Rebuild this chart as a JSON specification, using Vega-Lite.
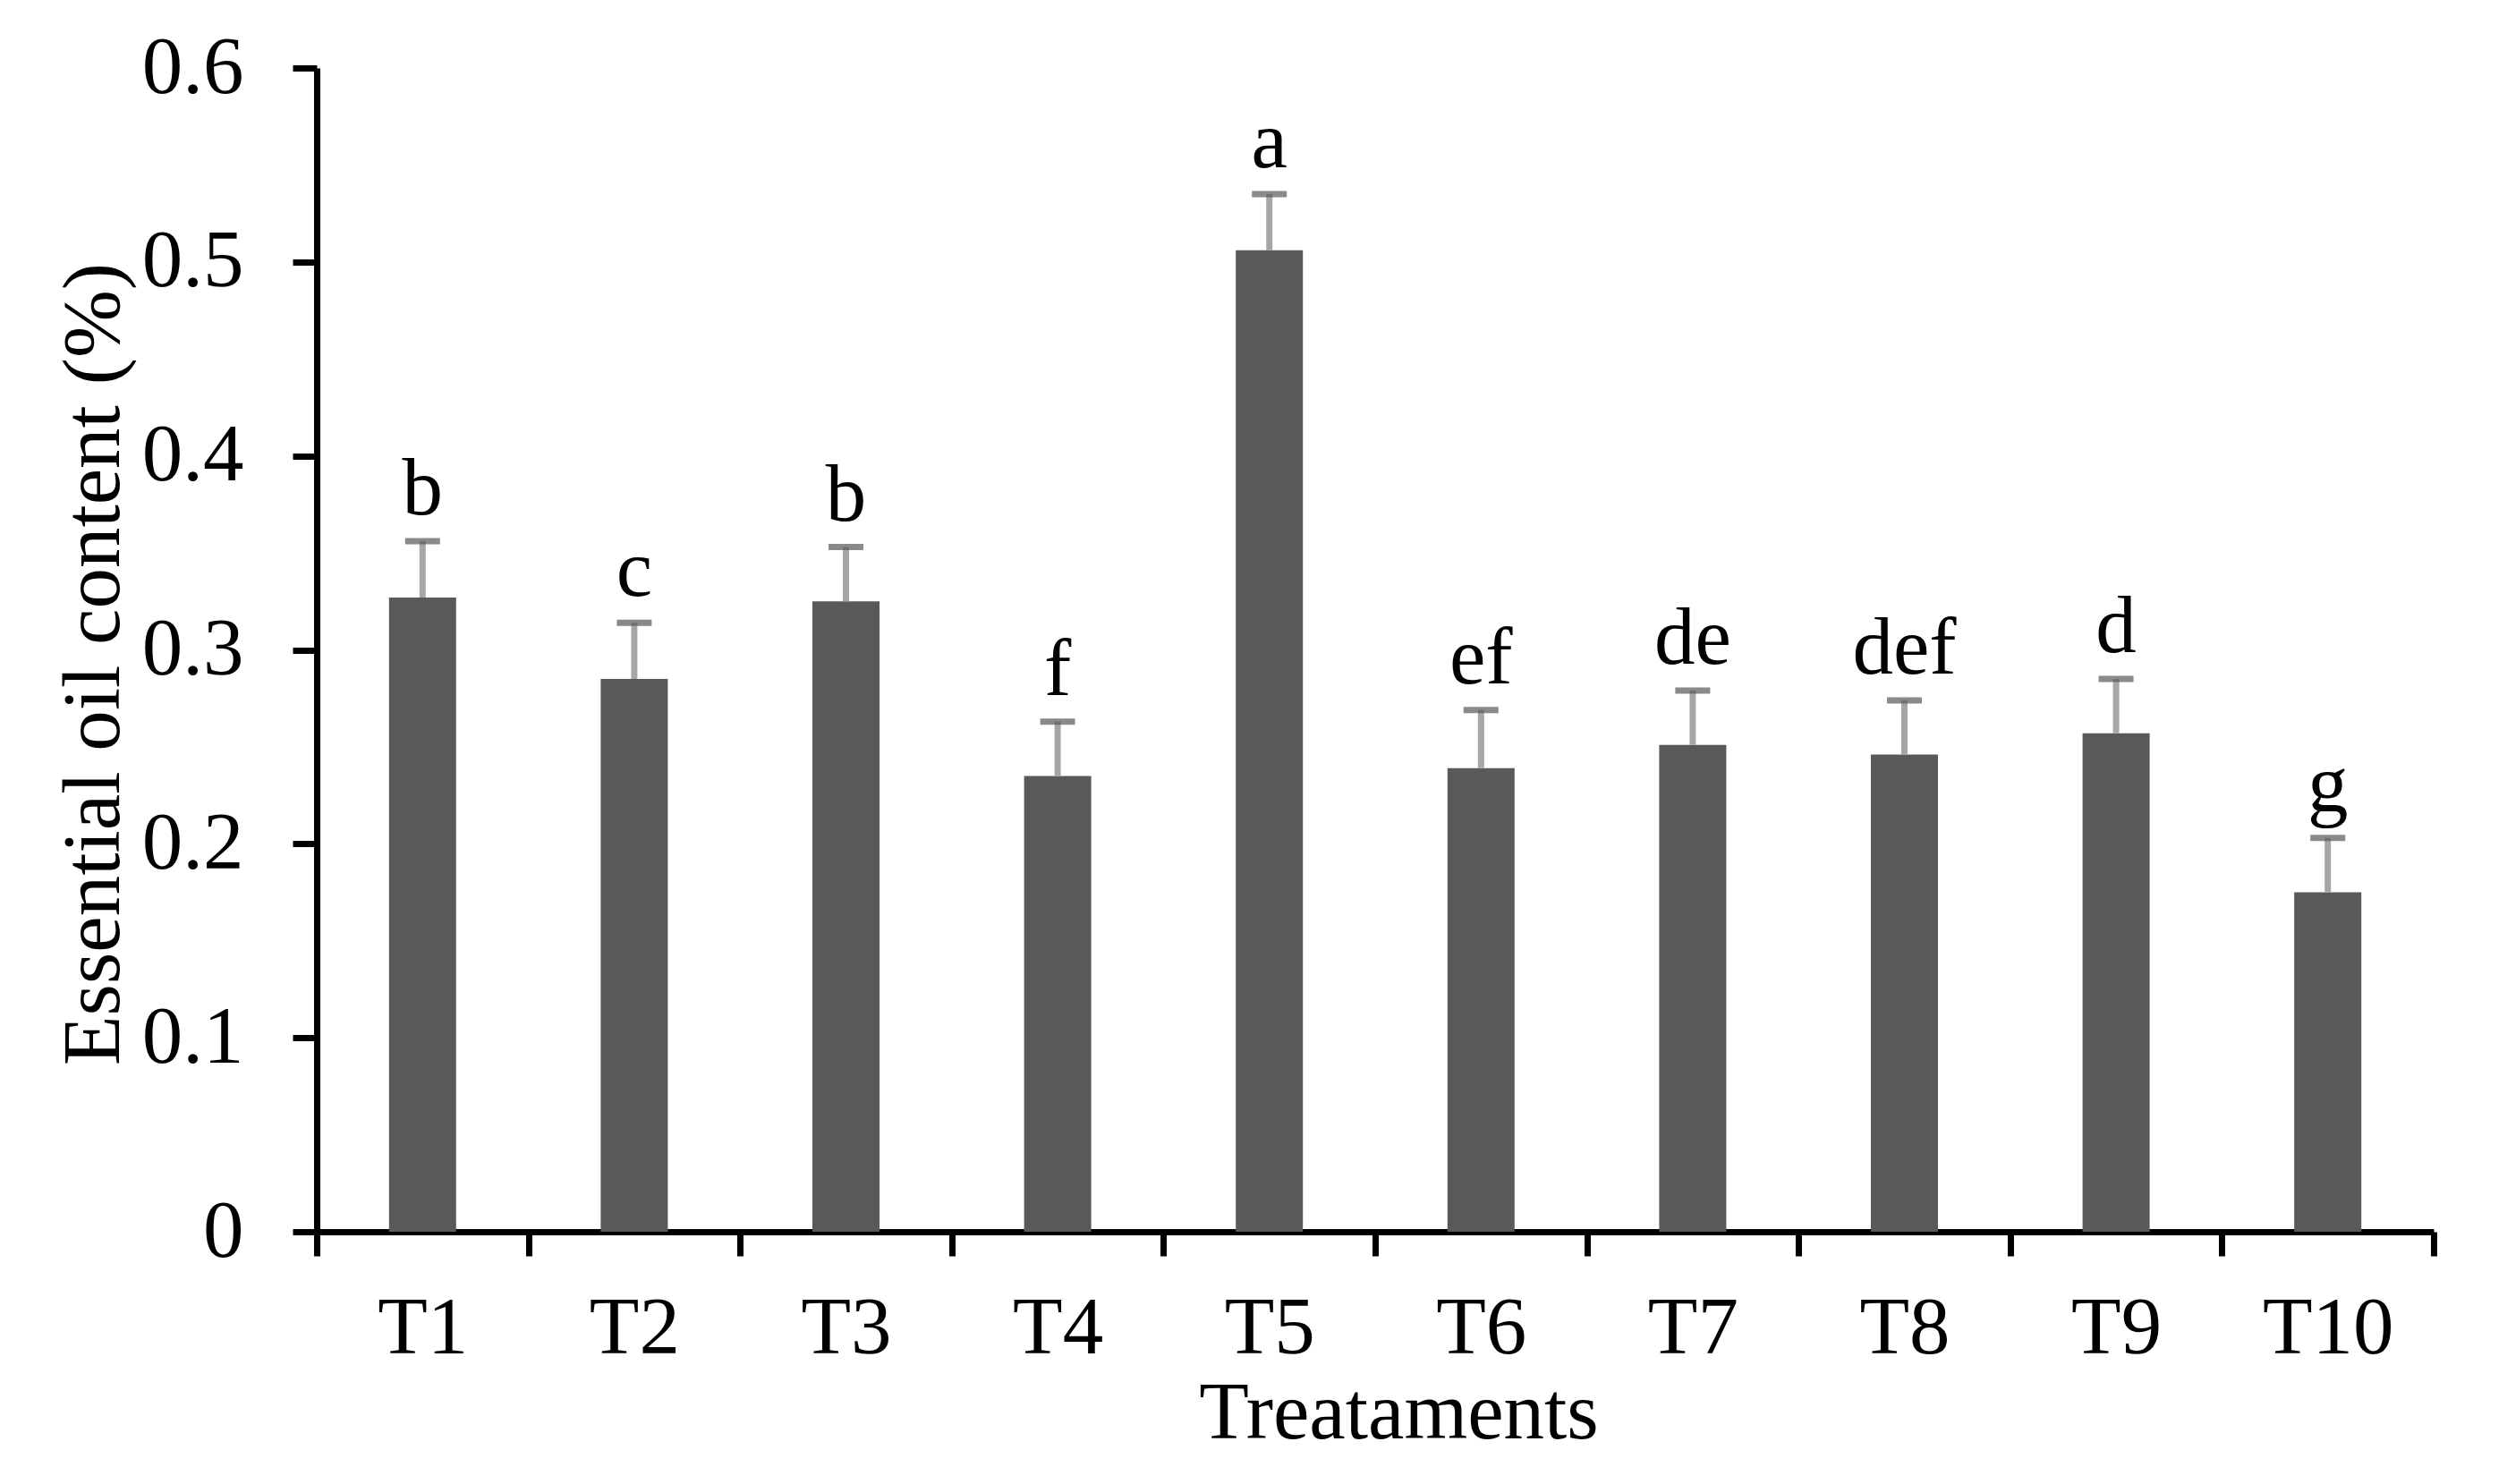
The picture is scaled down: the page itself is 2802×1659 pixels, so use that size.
{
  "$schema": "https://vega.github.io/schema/vega-lite/v6.json",
  "autosize": {"type": "none"},
  "padding": {"left": 354, "top": 76, "right": 82, "bottom": 282},
  "width": 2366,
  "height": 1301,
  "background": "white",
  "config": {
    "view": {"stroke": null},
    "font": "Liberation Serif",
    "axis": {
      "labelFont": "Liberation Serif",
      "titleFont": "Liberation Serif",
      "labelFontSize": 91,
      "titleFontSize": 91,
      "labelColor": "black",
      "titleColor": "black",
      "titleFontWeight": "normal",
      "domainColor": "black",
      "domainWidth": 7,
      "tickColor": "black",
      "tickWidth": 7,
      "tickSize": 27,
      "grid": false
    }
  },
  "data": {
    "values": [
      {"treatment": "T1", "value": 0.327, "err": 0.029, "group": "b"},
      {"treatment": "T2", "value": 0.285, "err": 0.029, "group": "c"},
      {"treatment": "T3", "value": 0.325, "err": 0.028, "group": "b"},
      {"treatment": "T4", "value": 0.235, "err": 0.028, "group": "f"},
      {"treatment": "T5", "value": 0.506, "err": 0.029, "group": "a"},
      {"treatment": "T6", "value": 0.239, "err": 0.030, "group": "ef"},
      {"treatment": "T7", "value": 0.251, "err": 0.028, "group": "de"},
      {"treatment": "T8", "value": 0.246, "err": 0.028, "group": "def"},
      {"treatment": "T9", "value": 0.257, "err": 0.028, "group": "d"},
      {"treatment": "T10", "value": 0.175, "err": 0.028, "group": "g"}
    ]
  },
  "transform": [{"calculate": "datum.value + datum.err", "as": "upper"}],
  "encoding": {
    "x": {
      "field": "treatment",
      "type": "nominal",
      "sort": null,
      "scale": {"paddingInner": 0, "paddingOuter": 0},
      "axis": {
        "title": "Treataments",
        "labelAngle": 0,
        "tickBand": "extent",
        "labelBaseline": "top",
        "labelPadding": 36,
        "titleX": 1209,
        "titleY": 230,
        "titleAnchor": null,
        "titleAlign": "center",
        "titleBaseline": "alphabetic"
      }
    }
  },
  "layer": [
    {
      "mark": {"type": "bar", "color": "#595959", "width": {"band": 0.317}},
      "encoding": {
        "y": {
          "field": "value",
          "type": "quantitative",
          "scale": {"domain": [0, 0.6], "nice": false, "zero": true},
          "axis": {
            "title": "Essential oil content (%)",
            "values": [0, 0.1, 0.2, 0.3, 0.4, 0.5, 0.6],
            "format": ".1~f",
            "labelPadding": 55,
            "titleX": -222,
            "titleY": 666,
            "titleAngle": 270,
            "titleAlign": "center",
            "titleBaseline": "alphabetic",
            "titleAnchor": null
          }
        }
      }
    },
    {
      "mark": {"type": "rule", "color": "#A6A6A6", "strokeWidth": 7},
      "encoding": {
        "y": {"field": "value", "type": "quantitative"},
        "y2": {"field": "upper"}
      }
    },
    {
      "mark": {"type": "tick", "color": "#595959", "thickness": 7, "size": 39, "orient": "horizontal"},
      "encoding": {
        "y": {"field": "upper", "type": "quantitative"}
      }
    },
    {
      "mark": {"type": "text", "font": "Liberation Serif", "fontSize": 91, "color": "black", "baseline": "alphabetic", "align": "center", "dy": -30},
      "encoding": {
        "y": {"field": "upper", "type": "quantitative"},
        "text": {"field": "group", "type": "nominal"}
      }
    }
  ]
}
